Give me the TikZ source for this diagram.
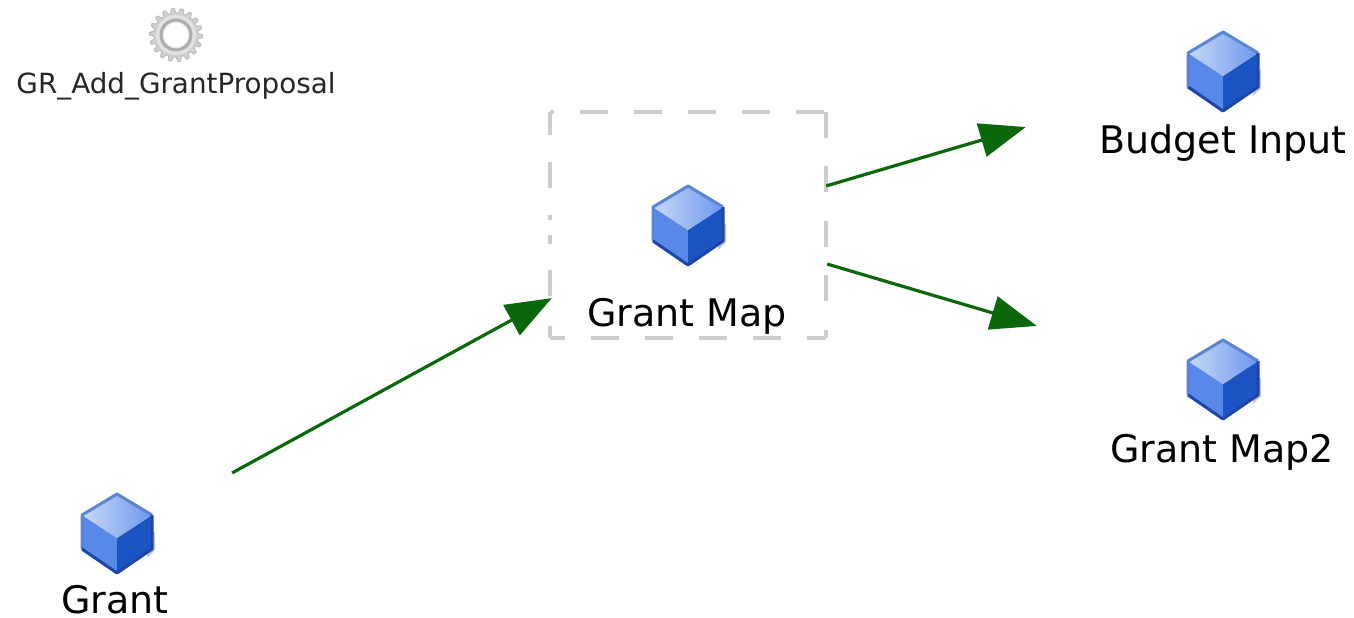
\documentclass[tikz,border=0pt]{standalone}
\usepackage{fontspec}
\setmainfont{DejaVu Sans}
\usetikzlibrary{arrows.meta}
\definecolor{flow}{RGB}{10,104,10}
\definecolor{cubeedge}{RGB}{92,132,214}
\definecolor{cubetop}{RGB}{108,152,238}
\definecolor{cubemid}{RGB}{150,180,240}
\definecolor{cubeshine}{RGB}{200,216,246}
\definecolor{cubeleft}{RGB}{88,136,232}
\definecolor{cuberight}{RGB}{28,84,196}
\definecolor{cubedark}{RGB}{30,70,165}
\definecolor{gearout}{RGB}{208,208,208}
\definecolor{gearring}{RGB}{172,172,172}
\definecolor{gearmid}{RGB}{226,226,226}
\definecolor{dashgrey}{RGB}{205,205,205}
\tikzset{
  x=1pt,y=-1pt,
  biglabel/.style={font=\fontsize{38}{38}\selectfont,text=black,inner sep=0pt,anchor=base},
  smalllabel/.style={font=\fontsize{27.8}{28}\selectfont,text=black!85,inner sep=0pt,anchor=base},
  flowarrow/.style={draw=flow,line width=3.2pt,-{Triangle[length=46pt,width=34pt,fill=flow]}},
  sidedash/.style={draw=dashgrey,line width=4.5pt},
  selbox/.style={minimum width=276pt,minimum height=226pt,inner sep=0pt},
  anchorpt/.style={inner sep=0pt,minimum size=0pt},
  pics/cube/.style={code={
    \fill[black!22] (36,0) -- (38,0) -- (38,18) -- (30,26) -- (30,10) -- cycle;
    \fill[cubeleft] (-35,-17) -- (0,6) -- (0,41) -- (-35,17) -- cycle;
    \fill[cuberight] (35,-17) -- (0,6) -- (0,41) -- (35,17) -- cycle;
    \shade[left color=cubeshine,middle color=cubemid,right color=cubetop] (0,-38) -- (35,-17) -- (0,6) -- (-35,-17) -- cycle;
    \draw[cubeedge,line width=3pt,line join=round] (-35,17) -- (-35,-17) -- (0,-38) -- (35,-17);
    \draw[cubedark,line width=3pt,line join=round] (-35,17) -- (0,41) -- (35,17) -- (35,-17);
  }},
  pics/gear/.style={code={
    \fill[gearout,draw=gearring!80!white,line width=1pt,line join=round] (0:26)
      \foreach \a in {0,20,...,340} { -- (\a:26.5) -- (\a+6:26.5) -- (\a+10:22) -- (\a+16:22) -- (\a+20:26.5) } -- cycle;
    \fill[gearmid] (0,0) circle (20);
    \draw[gearring,line width=3pt] (0,0) circle (15);
    \fill[white] (0,0) circle (12.5);
  }}
}
\begin{document}
\begin{tikzpicture}
\useasboundingbox (0,0) rectangle (1354,618);
\fill[white] (0,0) rectangle (1354,618);
\pic at (176,35) {gear};
\node[smalllabel] (proposal) at (176,93) {GR\_Add\_GrantProposal};
\node[selbox] (mapbox) at (688,225) {};
\draw[sidedash,dash pattern=on 28pt off 26pt,dash phase=24pt] (mapbox.north west) -- (mapbox.north east);
\draw[sidedash,dash pattern=on 26pt off 28.5pt] (mapbox.north east) -- (mapbox.south east);
\draw[sidedash,dash pattern=on 28pt off 26pt,dash phase=13pt] (mapbox.south west) -- (mapbox.south east);
\draw[sidedash,dash pattern=on 23pt off 27pt on 26pt off 27pt on 5pt off 15pt on 9pt off 26pt on 26pt off 30pt on 12pt off 9pt] (mapbox.north west) -- (mapbox.south west);
\pic at (688,224) {cube};
\node[biglabel] (mapl) at (687,326) {Grant Map};
\pic at (117,532) {cube};
\node[biglabel] (grant) at (115,613) {Grant};
\pic at (1223,70) {cube};
\node[biglabel] (budget) at (1223,153) {Budget Input};
\pic at (1223,378) {cube};
\node[biglabel] (map2) at (1222,462) {Grant Map2};
\node[anchorpt] (gout) at (232,473) {};
\node[anchorpt] (min) at (552,298) {};
\node[anchorpt] (mout1) at (826,186) {};
\node[anchorpt] (bin) at (1026,127) {};
\node[anchorpt] (mout2) at (827,264) {};
\node[anchorpt] (m2in) at (1037,326) {};
\draw[flowarrow] (gout) -- (min);
\draw[flowarrow] (mout1) -- (bin);
\draw[flowarrow] (mout2) -- (m2in);
\end{tikzpicture}
\end{document}
